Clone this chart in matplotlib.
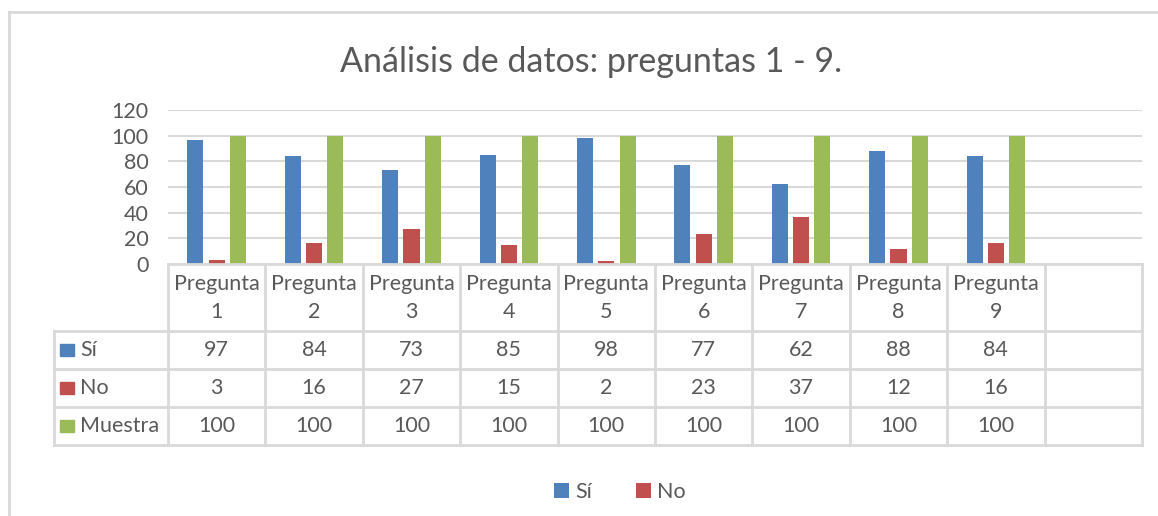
import matplotlib.pyplot as plt
import numpy as np

plt.rcParams['font.family'] = ['Lato', 'DejaVu Sans']

categories = ['Pregunta\n1', 'Pregunta\n2', 'Pregunta\n3', 'Pregunta\n4', 'Pregunta\n5',
              'Pregunta\n6', 'Pregunta\n7', 'Pregunta\n8', 'Pregunta\n9']
si = [97, 84, 73, 85, 98, 77, 62, 88, 84]
no = [3, 16, 27, 15, 2, 23, 37, 12, 16]
muestra = [100, 100, 100, 100, 100, 100, 100, 100, 100]

series = [('Sí', si, '#4F81BD'), ('No', no, '#C0504D'), ('Muestra', muestra, '#9BBB59')]
gray = '#595959'
line = '#D9D9D9'
fs = 15.5

W, H = 1158, 516
fig = plt.figure(figsize=(W / 100, H / 100), dpi=100)
fig.patch.set_facecolor('white')

# chart frame (only top and left visible)
fig.add_artist(plt.Line2D([9 / W, 9 / W], [0, 1 - 12 / H], color=line, lw=2))
fig.add_artist(plt.Line2D([9 / W, 1], [1 - 12 / H, 1 - 12 / H], color=line, lw=2))

fig.text(591 / W, 1 - 62 / H, 'Análisis de datos: preguntas 1 - 9.', ha='center', va='center',
         fontsize=24.5, color=gray)

# bar area
x0, x1 = 168, 1142
ytop, ybot = 110, 264
ax = fig.add_axes([x0 / W, 1 - ybot / H, (x1 - x0) / W, (ybot - ytop) / H])
n = len(categories) + 1  # one empty column at the end
x = np.arange(len(categories))
bw = 0.165
off = 0.219
for k, (name, vals, col) in enumerate(series):
    ax.bar(x + (k - 1) * off, vals, width=bw, color=col, label=name, zorder=3)
ax.set_xlim(-0.5, n - 0.5)
ax.set_ylim(0, 120)
ax.set_yticks(np.arange(0, 121, 20))
ax.yaxis.grid(True, color=line, lw=1.5, zorder=0)
ax.tick_params(axis='y', length=0, labelsize=fs, labelcolor=gray, pad=14)
ax.set_xticks([])
for s in ax.spines.values():
    s.set_visible(False)

# data table
tb = 445
tax = fig.add_axes([x0 / W, 1 - tb / H, (x1 - x0) / W, (tb - ybot) / H], sharex=ax)
tax.set_ylim(tb, ybot)
tax.axis('off')
rows = [264, 331, 369, 407, 445]
xl = -0.5 - (x0 - 54) / ((x1 - x0) / n)
kw = dict(color=line, lw=2, clip_on=False)
tax.plot([-0.5, n - 0.5], [rows[0], rows[0]], **kw)
for r in rows[1:]:
    tax.plot([xl, n - 0.5], [r, r], **kw)
for i in range(n + 1):
    tax.plot([i - 0.5, i - 0.5], [rows[0], rows[-1]], **kw)
tax.plot([xl, xl], [rows[1], rows[-1]], **kw)

for i, c in enumerate(categories):
    tax.text(i, 298, c, ha='center', va='center', fontsize=fs, color=gray, linespacing=1.55)
for k, (name, vals, col) in enumerate(series):
    yc = (rows[k + 1] + rows[k + 2]) / 2
    for i, v in enumerate(vals):
        tax.text(i, yc, str(v), ha='center', va='center', fontsize=fs, color=gray)
    fig.patches.append(plt.Rectangle((60 / W, 1 - (yc + 6) / H), 14 / W, 12 / H,
                                     transform=fig.transFigure, color=col, figure=fig))
    fig.text(80 / W, 1 - yc / H, name, ha='left', va='center', fontsize=fs, color=gray)

# legend (only Sí and No, as in the original)
h, l = ax.get_legend_handles_labels()
leg = fig.legend(h[:2], l[:2], loc='center', bbox_to_anchor=(620 / W, 1 - 492 / H), ncol=2,
                 frameon=False, fontsize=fs, handlelength=0.7, handleheight=0.7,
                 handletextpad=0.3, columnspacing=2.0, labelcolor=gray)

fig.savefig('out.png', dpi=100, facecolor='white')
